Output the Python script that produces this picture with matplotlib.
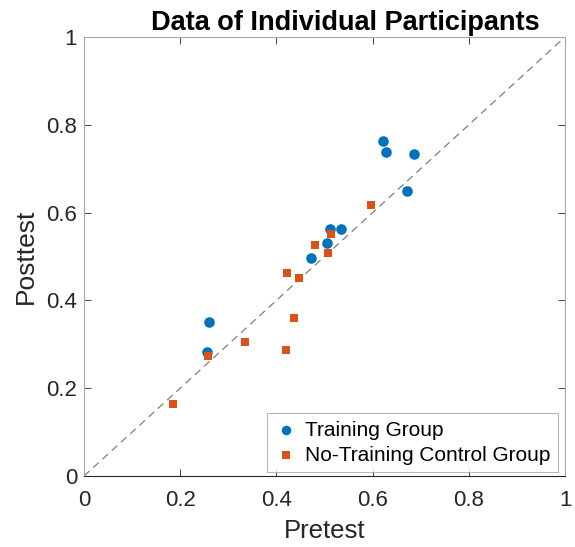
import matplotlib
matplotlib.use("Agg")
import matplotlib.pyplot as plt

plt.rcParams['font.family'] = ['Liberation Sans', 'DejaVu Sans']

# training group (pretest, posttest)
train_pre = [0.621, 0.628, 0.687, 0.671, 0.511, 0.534, 0.505, 0.472, 0.259, 0.255]
train_post = [0.763, 0.739, 0.733, 0.649, 0.563, 0.563, 0.530, 0.497, 0.351, 0.282]

# no-training control group
ctrl_pre = [0.597, 0.514, 0.480, 0.507, 0.421, 0.447, 0.437, 0.334, 0.420, 0.258, 0.186]
ctrl_post = [0.617, 0.552, 0.526, 0.509, 0.462, 0.451, 0.361, 0.305, 0.288, 0.273, 0.164]

ticks = [0, 0.2, 0.4, 0.6, 0.8, 1]
tick_labels = ['0', '0.2', '0.4', '0.6', '0.8', '1']

fig = plt.figure(figsize=(5.75, 5.47), dpi=100)
ax = fig.add_axes([84 / 575, 1 - 476 / 547, 481 / 575, 439 / 547])

ax.plot([0, 1], [0, 1], linestyle=(0, (6, 4)), color='#7f7f7f', linewidth=0.9, zorder=1)
ax.scatter(train_pre, train_post, s=58, marker='o', color='#0072BD',
           label='Training Group', zorder=3, linewidths=0)
ax.scatter(ctrl_pre, ctrl_post, s=34, marker='s', color='#D95319',
           label='No-Training Control Group', zorder=3, linewidths=0)

ax.set_xlim(0, 1)
ax.set_ylim(0, 1)
ax.set_xticks(ticks)
ax.set_xticklabels(tick_labels)
ax.set_yticks(ticks)
ax.set_yticklabels(tick_labels)
ax.tick_params(direction='in', top=True, right=True, length=5, width=0.6,
               labelsize=16, colors='#262626')
ax.tick_params(axis='x', pad=10)
ax.tick_params(axis='y', pad=5)

for side in ['left', 'top', 'right']:
    ax.spines[side].set_color('#a6a6a6')
    ax.spines[side].set_linewidth(0.8)
ax.spines['bottom'].set_color('#262626')
ax.spines['bottom'].set_linewidth(0.8)

ax.set_xlabel('Pretest', fontsize=18.5, color='#262626', labelpad=6)
ax.set_ylabel('Posttest', fontsize=19, color='#262626', labelpad=6)
ax.set_title('Data of Individual Participants', fontsize=19.5, fontweight='bold',
             x=0.543, pad=5)

leg = ax.legend(loc='lower right', bbox_to_anchor=(0.985, 0.009), borderaxespad=0,
                fontsize=15, frameon=True, fancybox=False,
                handletextpad=0.3, handlelength=1.2,
                borderpad=0.35, labelspacing=0.3, markerscale=0.9)
leg.get_frame().set_edgecolor('#a6a6a6')
leg.get_frame().set_linewidth(0.8)

fig.savefig('out.png', dpi=100, facecolor='white')
